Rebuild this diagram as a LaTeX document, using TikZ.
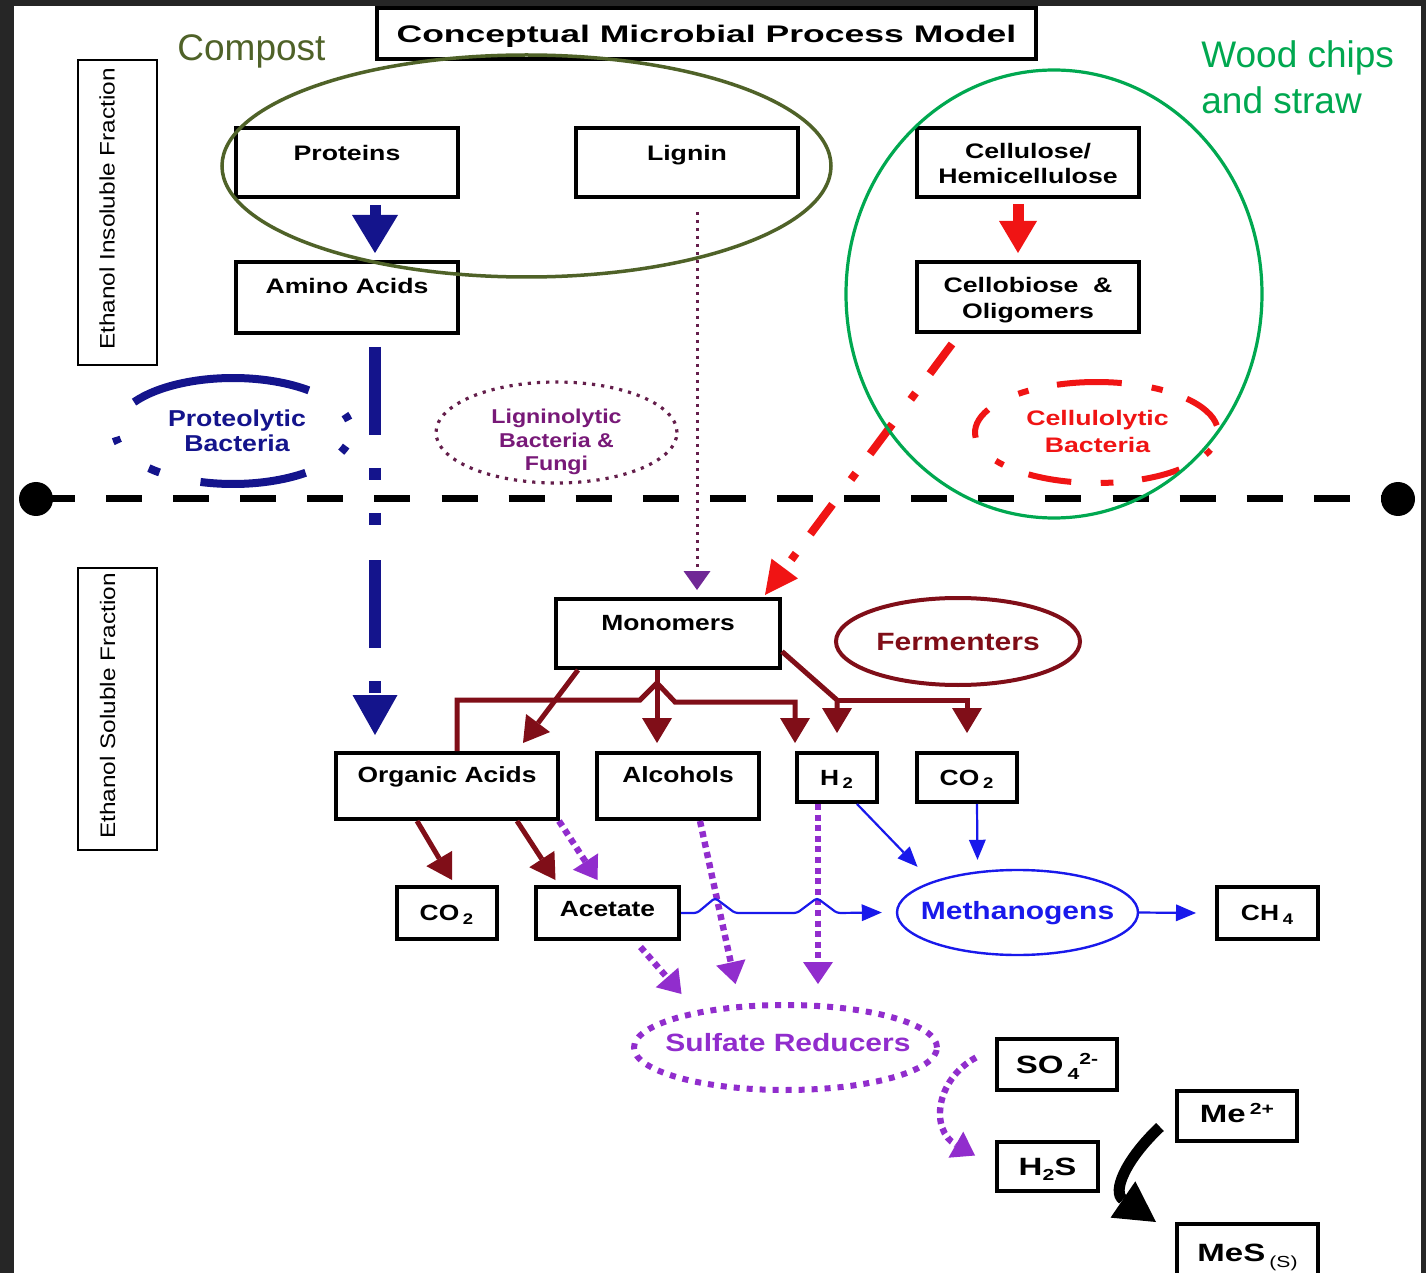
\documentclass[tikz,border=0pt]{standalone}
\usepackage{fontspec}
\setmainfont{Liberation Sans}
\newfontfamily\fplain{Liberation Sans}
\newfontfamily\ftitle{Liberation Sans}[FakeStretch=1.48]
\newfontfamily\fup{Liberation Sans}[FakeStretch=1.27]
\newfontfamily\flow{Liberation Sans}[FakeStretch=1.2]
\newfontfamily\fchem{Liberation Sans}[FakeStretch=1.32]
\newfontfamily\fvert{Liberation Sans}[FakeStretch=1.16]
\usetikzlibrary{arrows.meta,shapes.geometric}
\definecolor{framec}{RGB}{38,38,38}
\definecolor{navyb}{RGB}{20,20,140}
\definecolor{ligp}{RGB}{120,25,120}
\definecolor{ligdot}{RGB}{100,30,75}
\definecolor{ligh}{RGB}{112,40,150}
\definecolor{redc}{RGB}{240,20,20}
\definecolor{fermc}{RGB}{128,14,24}
\definecolor{violetd}{RGB}{145,45,205}
\definecolor{blueM}{RGB}{25,25,235}
\definecolor{olivec}{RGB}{79,98,40}
\definecolor{greenW}{RGB}{0,168,80}
\newcommand\mkbox[6]{\node[#6, minimum width={(#4-#2)*0.5pt}, minimum height={(#5-#3)*0.5pt}] (#1) at ({(#2+#4)/2},{(#3+#5)/2}) {};}
\newcommand\mkell[6]{\node[ellipse, inner sep=0pt, #6, minimum width={#4*1pt}, minimum height={#5*1pt}] (#1) at (#2,#3) {};}
\newcommand\smallidx[2]{\raisebox{#1}{\fontsize{8}{9}\selectfont #2}}
\begin{document}
\begin{tikzpicture}[x=0.5pt,y=-0.5pt,
  box/.style={draw, line width=2pt, fill=white, inner sep=0pt},
  vbox/.style={draw, line width=0.8pt, fill=white, inner sep=0pt},
  lab/.style={inner sep=0pt, text depth=0pt},
  ttl/.style={lab, font=\ftitle\bfseries\fontsize{12}{14}\selectfont, text height=8.6pt},
  tu/.style={lab, font=\fup\bfseries\fontsize{10.5}{12}\selectfont, text height=7.52pt},
  tl/.style={lab, font=\flow\bfseries\fontsize{11}{13}\selectfont, text height=7.88pt},
  tc/.style={lab, font=\fchem\bfseries\fontsize{12.5}{14}\selectfont, text height=8.95pt},
  tv/.style={lab, font=\fvert\fontsize{10.5}{12}\selectfont, text height=7.52pt},
  tpb/.style={lab, text=navyb, font=\fvert\bfseries\fontsize{11.5}{13}\selectfont, text height=8.23pt},
  tlb/.style={lab, text=ligp, font=\fvert\bfseries\fontsize{10}{12}\selectfont, text height=7.16pt},
  tcb/.style={lab, text=redc, font=\fup\bfseries\fontsize{10.5}{12}\selectfont, text height=7.52pt},
  tell/.style={lab, font=\flow\bfseries\fontsize{12.5}{14}\selectfont, text height=8.95pt},
  dotn/.style={circle, fill=black, inner sep=0pt, outer sep=0pt, minimum size=17pt},
  midline/.style={line width=3.5pt, dash pattern=on 18pt off 15.55pt, dash phase=32.1pt},
  navythick/.style={draw=navyb, line width=5.5pt, -{Triangle[length=19pt,width=23pt,line width=0pt]}},
  redthick/.style={draw=redc, line width=5.5pt, -{Triangle[length=16pt,width=19pt,line width=0pt]}},
  navydd/.style={draw=navyb, line width=6pt, dash pattern=on 44pt off 16.5pt on 6pt off 16.5pt on 6pt off 17.5pt, -{Triangle[length=20pt,width=22.5pt,line width=0pt]}},
  ligline/.style={draw=ligdot, line width=1.5pt, dash pattern=on 1.5pt off 2.5pt, -{Triangle[length=9.5pt,width=13.5pt,line width=0pt,color=ligh]}},
  reddd/.style={draw=redc, line width=4pt, dash pattern=on 18.5pt off 12pt on 4pt off 15.5pt, -{Triangle[length=16.5pt,width=16.5pt,line width=0pt]}},
  farr/.style={draw=fermc, line width=2.5pt, -{Triangle[length=12.5pt,width=15pt,line width=0pt]}},
  purp/.style={draw=violetd, line width=3.2pt, dash pattern=on 3pt off 2.3pt, -{Triangle[length=11pt,width=15pt,line width=0pt]}},
  barr/.style={draw=blueM, line width=1.1pt, -{Triangle[length=10pt,width=8.5pt,line width=0pt]}},
  blkarr/.style={draw=black, line width=5.5pt, -{Triangle[length=20pt,width=22pt,line width=0pt]}}
]
\useasboundingbox (0,0) rectangle (1426,1273);
\fill[framec] (0,0) rectangle (1426,1273);
\fill[white] (14,6) rectangle (1421,1273);

% separator line
\node[dotn] (dl) at (36,499) {};
\node[dotn] (dr) at (1398,499) {};
\draw[midline] (dl.center) -- (dr.center);

% title and side labels
\mkbox{title}{377}{8}{1036}{59}{box, label={[ttl]center:Conceptual Microbial Process Model}}
\mkbox{insol}{78}{60}{157}{365}{vbox, label={[tv, xshift=-5.25pt, yshift=1.75pt, rotate=90]center:Ethanol Insoluble Fraction}}
\mkbox{sol}{78}{568}{157}{850}{vbox, label={[tv, xshift=-5pt, yshift=1.5pt, rotate=90]center:Ethanol Soluble Fraction}}

% upper boxes
\mkbox{prot}{236}{128}{458}{197}{box, label={[tu,yshift=5pt]center:Proteins}}
\mkbox{lig}{576}{128}{798}{197}{box, label={[tu,yshift=5pt]center:Lignin}}
\mkbox{amino}{236}{262}{458}{333}{box, label={[tu,yshift=5.75pt]center:Amino Acids}}
\mkbox{cell}{917}{128}{1139}{197}{box, label={[tu,yshift=5.75pt]center:Cellulose/}, label={[tu,yshift=-6.75pt]center:Hemicellulose}}
\mkbox{cbio}{917}{262}{1139}{332}{box, label={[tu,yshift=6pt]center:Cellobiose\hspace{0.7em}\&}, label={[tu,yshift=-6.75pt]center:Oligomers}}

% lower boxes
\mkbox{mono}{556}{599}{780}{668}{box, label={[tl,yshift=5.25pt]center:Monomers}}
\mkbox{orga}{336}{753}{558}{819}{box, label={[tl,yshift=5.5pt]center:Organic Acids}}
\mkbox{alc}{597}{753}{759}{819}{box, label={[tl,yshift=5.5pt]center:Alcohols}}
\mkbox{htwo}{797}{753}{877}{802}{box, label={[tl]center:H\,\textsubscript{2}}}
\mkbox{cotr}{917}{753}{1017}{802}{box, label={[tl]center:CO\,\textsubscript{2}}}
\mkbox{cotl}{397}{887}{497}{939}{box, label={[tl]center:CO\,\textsubscript{2}}}
\mkbox{acet}{536}{887}{679}{939}{box, label={[tl,yshift=2pt]center:Acetate}}
\mkbox{chf}{1217}{887}{1318}{939}{box, label={[tl]center:CH\,\textsubscript{4}}}
\mkbox{sof}{997}{1039}{1117}{1090}{box, label={[tc]center:SO\,\smallidx{-3pt}{4}\smallidx{4.5pt}{2-}}}
\mkbox{me}{1177}{1091}{1297}{1141}{box, label={[tc,yshift=1pt]center:Me\,\smallidx{4pt}{2+}}}
\mkbox{hts}{997}{1142}{1098}{1191}{box, label={[tc]center:H\smallidx{-2.5pt}{2}S}}
\mkbox{mes}{1177}{1224}{1318}{1290}{box, label={[tc,yshift=2.25pt]center:MeS\,\smallidx{-3pt}{\mdseries(S)}}}

% organism groups
\node[inner sep=0pt, label={[tpb,xshift=2pt,yshift=6.5pt]center:Proteolytic}, label={[tpb,xshift=2pt,yshift=-6pt]center:Bacteria}] (pb) at (233,431) {};
\draw[navyb, line width=4pt] (pb) ++(-147:118 and 53) arc[start angle=-147, end angle=-50, x radius=118, y radius=53];
\draw[navyb, line width=4pt] (pb) ++(52:118 and 53) arc[start angle=52, end angle=106, x radius=118, y radius=53];
\foreach \a in {-15,20,132,170}
  \draw[navyb, line width=4pt] (pb) ++({\a-3.5}:118 and 53) arc[start angle={\a-3.5}, end angle={\a+3.5}, x radius=118, y radius=53];

\mkell{lb}{556.5}{432.5}{120.5}{50.5}{draw=ligdot, line width=1.6pt, dash pattern=on 1.6pt off 3pt, label={[tlb,yshift=8.25pt]center:Ligninolytic}, label={[tlb,yshift=-3.75pt]center:Bacteria \&}, label={[tlb,yshift=-15.25pt]center:Fungi}}

\node[inner sep=0pt, label={[tcb,xshift=0.5pt,yshift=7.5pt]center:Cellulolytic}, label={[tcb,xshift=0.5pt,yshift=-6pt]center:Bacteria}] (cb) at (1096.5,432.5) {};
\foreach \a/\b in {-42/-8,-109/-78,-186/-153,-258/-236,-313/-292}
  \draw[redc, line width=3pt] (cb) ++(\a:121.5 and 50.5) arc[start angle=\a, end angle=\b, x radius=121.5, y radius=50.5];
\foreach \a in {-60,-127,-217,-275,-337}
  \draw[redc, line width=3pt] (cb) ++({\a-3}:121.5 and 50.5) arc[start angle={\a-3}, end angle={\a+3}, x radius=121.5, y radius=50.5];

\mkell{fe}{958}{641.5}{122}{43.5}{draw=fermc, line width=2pt, label={[tell,text=fermc]center:Fermenters}}
\mkell{meth}{1017.5}{912.5}{120.5}{42.5}{draw=blueM, line width=1.2pt, label={[tell,text=blueM,yshift=0.75pt]center:Methanogens}}
\mkell{sr}{785.5}{1047.5}{151.5}{42.5}{draw=violetd, line width=3pt, dash pattern=on 3pt off 3.5pt, label={[tell,text=violetd,xshift=1.25pt,yshift=2.5pt]center:Sulfate Reducers}}

% connectors
\draw[navythick] ([xshift=14pt,yshift=-3pt]prot.south) -- ([xshift=14pt,yshift=3.5pt]amino.north);
\draw[redthick] ([xshift=-5pt,yshift=-2.5pt]cell.south) -- ([xshift=-5pt,yshift=3.5pt]cbio.north);
\draw[navydd] ([xshift=14pt,yshift=-6pt]amino.south) -- ([xshift=-36pt,yshift=8pt]orga.north);
\draw[ligline] ([xshift=5pt,yshift=-6.5pt]lig.south) -- ([xshift=14.5pt,yshift=3.5pt]mono.north);
\draw[reddd] ([xshift=-38pt,yshift=-5pt]cbio.south) -- ([xshift=-8.5pt,yshift=1pt]mono.north east);

\draw[farr] ([xshift=-45pt]mono.south) -- ([xshift=38pt,yshift=4pt]orga.north);
\draw[farr] ([xshift=-5.5pt]mono.south) -- ([xshift=-10.5pt,yshift=4pt]alc.north);
\draw[farr] ([xshift=5pt]orga.north) |- (640,700) -- (657,683) -- (675,702) -| ([xshift=-21pt,yshift=4pt]htwo.north);
\draw[farr] ([yshift=-9pt]mono.east) -- (htwo.north |- 0,700) -- ([yshift=9pt]htwo.north);
\draw[farr] (htwo.north |- 0,700) -| ([yshift=9pt]cotr.north);
\draw[farr] ([xshift=-15pt]orga.south) -- ([xshift=2.5pt,yshift=2.5pt]cotl.north);
\draw[farr] ([xshift=35pt]orga.south) -- ([xshift=-26pt,yshift=2.5pt]acet.north);

\draw[purp] ([xshift=-0.5pt]orga.south east) -- ([xshift=-5pt,yshift=2.5pt]acet.north);
\draw[purp] ([xshift=11pt]alc.south) -- ([xshift=-25pt,yshift=9pt]sr.north);
\draw[purp] ([xshift=-9.5pt]htwo.south) -- ([xshift=16.25pt,yshift=9pt]sr.north);
\draw[purp] ([xshift=16.5pt,yshift=-3pt]acet.south) -- ([xshift=-52pt,yshift=4pt]sr.north);
\draw[purp] ([xshift=-9.5pt,yshift=3.5pt]sof.west) .. controls (935,1080) and (930,1130) .. ([xshift=-10pt,yshift=5.5pt]hts.west);

\draw[barr, rounded corners=1.5pt] (acet.east) -- (697,913) -- (715,898) -- (735,913) -- (797,913) -- (817,898) -- (837,913) -- ([xshift=-7pt]meth.west);
\draw[barr] ([xshift=10pt]htwo.south) -- ([xshift=-50pt,yshift=1pt]meth.north);
\draw[barr] ([xshift=5pt]cotr.south) -- ([xshift=-20pt,yshift=4.5pt]meth.north);
\draw[barr] (meth.east) -- ([xshift=-9.5pt]chf.west);

\draw[blkarr] ([xshift=-7.5pt,yshift=-5.5pt]me.west) .. controls (1125,1160) and (1112,1192) .. ([xshift=-9.5pt]mes.north west);

% source groupings
\draw[olivec, line width=1.75pt] (526.5,166) ellipse [x radius=304.5, y radius=111];
\draw[greenW, line width=1.6pt] (1054,294) ellipse [x radius=208, y radius=224];
\node[anchor=base west, inner sep=0pt, text=olivec, font=\fplain\fontsize{18.5}{22}\selectfont] (compost) at (177,61) {Compost};
\node[anchor=west, inner sep=0pt, align=left, text=greenW, font=\fplain\fontsize{18.5}{23}\selectfont] (wood) at (1201,77.5) {Wood chips\\and straw};
\end{tikzpicture}
\end{document}
